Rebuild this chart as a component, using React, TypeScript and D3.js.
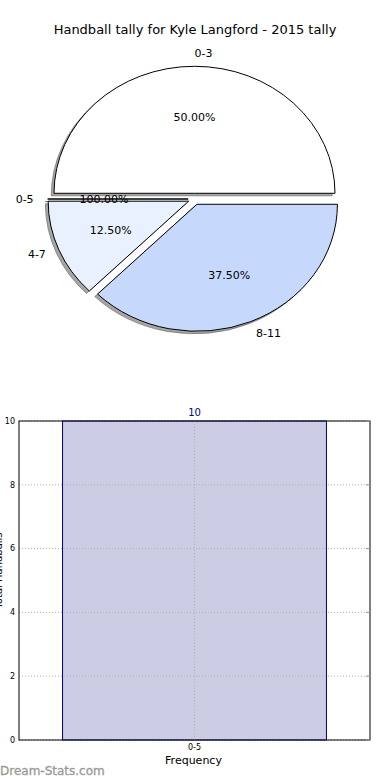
import { useEffect, useRef } from 'react';
import * as d3 from 'd3';

// pie data
const pieLabels = ['0-3', '0-5', '4-7', '8-11'];
const pieValues = [4, 0, 1, 3];
const pctLabels = ['50.00%', '100.00%', '12.50%', '37.50%'];
const pieColors = ['#ffffff', '#ffffff', '#eaf1fe', '#c6d9fd'];

// bar data
const barCategories = ['0-5'];
const barValues = [10];
const yTicks = [0, 2, 4, 6, 8, 10];

const W = 390;
const H = 780;
const FONT = '"DejaVu Sans", Verdana, sans-serif';

// elliptical wedge, angles in radians ccw from east (matplotlib style)
function wedgePath(x0: number, y0: number, rx: number, ry: number, t1: number, t2: number) {
    const p = d3.path();
    p.moveTo(x0, y0);
    p.lineTo(x0 + rx * Math.cos(t1), y0 - ry * Math.sin(t1));
    const large = t2 - t1 > Math.PI ? 1 : 0;
    const ex = x0 + rx * Math.cos(t2);
    const ey = y0 - ry * Math.sin(t2);
    return `${p.toString()}A${rx},${ry},0,${large},0,${ex},${ey}Z`;
}

export default function App() {
    const svgRef = useRef<SVGSVGElement>(null);

    useEffect(() => {
        if (!svgRef.current) return;
        const svg = d3.select(svgRef.current);
        svg.selectAll('*').remove();

        svg.append('rect').attr('width', W).attr('height', H).attr('fill', '#fff');

        // title
        svg.append('text')
            .attr('x', 195).attr('y', 34)
            .attr('text-anchor', 'middle')
            .attr('font-size', 13)
            .text('Handball tally for Kyle Langford - 2015 tally');

        // ---- pie ----
        const cx = 194.5, cy = 199, rx = 140.5, ry = 127, explode = 0.045;

        const pie = d3.pie<number>()
            .sort(null)
            .startAngle(0)
            .endAngle(2 * Math.PI);
        const arcs = pie(pieValues);

        const slices = arcs.map((a, i) => {
            const t1 = a.startAngle, t2 = a.endAngle;
            const tm = (t1 + t2) / 2;
            const ox = cx + explode * rx * Math.cos(tm);
            const oy = cy - explode * ry * Math.sin(tm);
            return { i, t1, t2, tm, ox, oy };
        });

        const pieG = svg.append('g');

        // shadows
        pieG.selectAll('.shadow')
            .data(slices)
            .join('path')
            .attr('class', 'shadow')
            .attr('d', d => wedgePath(d.ox - 0.02 * rx, d.oy + 0.02 * ry, rx, ry, d.t1, d.t2))
            .attr('fill', 'rgba(77,77,77,0.5)')
            .attr('stroke', 'rgba(77,77,77,0.5)')
            .attr('stroke-width', 1);

        pieG.selectAll('.wedge')
            .data(slices)
            .join('path')
            .attr('class', 'wedge')
            .attr('d', d => wedgePath(d.ox, d.oy, rx, ry, d.t1, d.t2))
            .attr('fill', d => pieColors[d.i])
            .attr('stroke', '#000')
            .attr('stroke-width', 1)
            .attr('stroke-linejoin', 'round');

        // labels at 1.1 radius
        pieG.selectAll('.plabel')
            .data(slices)
            .join('text')
            .attr('class', 'plabel')
            .attr('x', d => d.ox + 1.1 * rx * Math.cos(d.tm))
            .attr('y', d => d.oy - 1.1 * ry * Math.sin(d.tm))
            .attr('dy', '0.35em')
            .attr('text-anchor', d => (Math.cos(d.tm) > 0 ? 'start' : 'end'))
            .attr('font-size', 11)
            .text(d => pieLabels[d.i]);

        // percentages at 0.6 radius
        pieG.selectAll('.pct')
            .data(slices)
            .join('text')
            .attr('class', 'pct')
            .attr('x', d => d.ox + 0.6 * rx * Math.cos(d.tm))
            .attr('y', d => d.oy - 0.6 * ry * Math.sin(d.tm))
            .attr('dy', '0.35em')
            .attr('text-anchor', 'middle')
            .attr('font-size', 11)
            .text(d => pctLabels[d.i]);

        // ---- bar chart ----
        const left = 19, right = 370, top = 421, bottom = 740;

        const x = d3.scaleBand<string>()
            .domain(barCategories)
            .range([left, right])
            .paddingInner(0.2)
            .paddingOuter(0.132);
        const y = d3.scaleLinear().domain([0, 10]).range([bottom, top]);

        const barG = svg.append('g');

        barG.selectAll('.bar')
            .data(barValues)
            .join('rect')
            .attr('class', 'bar')
            .attr('x', (_, i) => x(barCategories[i])!)
            .attr('y', d => y(d))
            .attr('width', x.bandwidth())
            .attr('height', d => bottom - y(d))
            .attr('fill', '#ccccE4')
            .attr('stroke', '#00008b')
            .attr('stroke-width', 1);

        // grid (drawn over the bar)
        barG.selectAll('.hgrid')
            .data(yTicks)
            .join('line')
            .attr('class', 'hgrid')
            .attr('x1', left).attr('x2', right)
            .attr('y1', d => y(d)).attr('y2', d => y(d))
            .attr('stroke', '#b0b0b0')
            .attr('stroke-width', 1)
            .attr('stroke-dasharray', '1,2');

        barG.selectAll('.vgrid')
            .data(barCategories)
            .join('line')
            .attr('class', 'vgrid')
            .attr('x1', d => x(d)! + x.bandwidth() / 2)
            .attr('x2', d => x(d)! + x.bandwidth() / 2)
            .attr('y1', top).attr('y2', bottom)
            .attr('stroke', '#b0b0b0')
            .attr('stroke-width', 1)
            .attr('stroke-dasharray', '1,2');

        // axis frame
        barG.append('rect')
            .attr('x', left).attr('y', top)
            .attr('width', right - left).attr('height', bottom - top)
            .attr('fill', 'none')
            .attr('stroke', '#000')
            .attr('stroke-width', 1);

        // y tick labels and inward ticks on the right
        barG.selectAll('.ytl')
            .data(yTicks)
            .join('text')
            .attr('class', 'ytl')
            .attr('x', left - 4)
            .attr('y', d => y(d))
            .attr('dy', '0.35em')
            .attr('text-anchor', 'end')
            .attr('font-size', 8)
            .text(d => d3.format('d')(d));

        barG.selectAll('.ytick-r')
            .data(yTicks)
            .join('line')
            .attr('class', 'ytick-r')
            .attr('x1', right - 4).attr('x2', right)
            .attr('y1', d => y(d)).attr('y2', d => y(d))
            .attr('stroke', '#999');

        // x tick label
        barG.selectAll('.xtl')
            .data(barCategories)
            .join('text')
            .attr('class', 'xtl')
            .attr('x', d => x(d)! + x.bandwidth() / 2)
            .attr('y', bottom + 10)
            .attr('text-anchor', 'middle')
            .attr('font-size', 8)
            .text(d => d);

        // value label
        barG.selectAll('.val')
            .data(barValues)
            .join('text')
            .attr('class', 'val')
            .attr('x', (_, i) => x(barCategories[i])! + x.bandwidth() / 2)
            .attr('y', d => y(d) - 5)
            .attr('text-anchor', 'middle')
            .attr('font-size', 10)
            .attr('fill', '#00008b')
            .text(d => d);

        barG.append('text')
            .attr('x', (left + right) / 2 - 1)
            .attr('y', bottom + 24)
            .attr('text-anchor', 'middle')
            .attr('font-size', 11)
            .text('Frequency');

        // y label, mostly off-canvas as in the source image
        barG.append('text')
            .attr('transform', `translate(2,${(top + bottom) / 2 - 10}) rotate(-90)`)
            .attr('text-anchor', 'middle')
            .attr('font-size', 10)
            .text('Total Handballs');

        // watermark
        svg.append('text')
            .attr('x', 0).attr('y', 775)
            .attr('font-size', 12)
            .attr('fill', '#999')
            .attr('stroke', '#999')
            .attr('stroke-width', 0.3)
            .text('Dream-Stats.com');
    }, []);

    return (
        <svg
            ref={svgRef}
            width={W}
            height={H}
            style={{ position: 'absolute', left: 0, top: 0, fontFamily: FONT }}
        />
    );
}
